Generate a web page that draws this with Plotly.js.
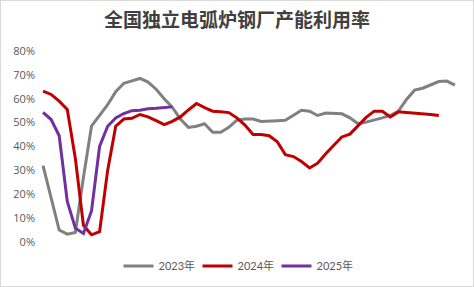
<!DOCTYPE html>
<html><head><meta charset="utf-8">
<script src="https://cdn.plot.ly/plotly-3.0.1.min.js"></script>
<style>html,body{margin:0;padding:0;background:#fff;}#frame{position:absolute;left:0;top:0;width:474px;height:287px;box-sizing:border-box;border:1px solid #d9d9d9;pointer-events:none;}#chart{position:absolute;left:0;top:0;width:474px;height:287px;}</style>
</head><body><div id="chart"></div><div id="frame"></div>
<script>
const weeks = Array.from({length:52},(_,i)=>i+1);
const y2023 = [32,18,5,3.3,4,27,48.5,53,57.5,63,66.5,67.5,68.5,67,64,60,56.5,51.5,48,48.5,49.5,46,46,48,51,51.5,51.5,50.5,50.5,50.8,51,53,55.2,54.8,53,54,54,53.7,52,49.5,50.2,51,52,53,54.8,59.7,63.6,64.4,65.8,67.2,67.4,65.7];
const y2024 = [63.2,61.8,59,55.5,35,7,3,4.3,30,48.5,51.5,51.8,53.4,52.4,50.8,49.2,50.5,52.4,55.3,58,56.3,54.8,54.6,54.2,52,49,45,45,44.5,42,36.6,35.8,33.7,31,33,37,40.5,44,45.2,48.7,52.2,54.8,54.8,52.4,54.5,54.2,54,53.8,53.4,53];
const y2025 = [54.3,51.3,44.5,17,5.8,3.6,13,40,48.5,52,53.8,55,55.2,55.8,56,56.3,56.6];
const yTickVals = [0,10,20,30,40,50,60,70,80];
const yTickText = ['0%','10%','20%','30%','40%','50%','60%','70%','80%'];
const names = ['2023年','2024年','2025年'];
const colors = ['#808080','#c00000','#7030a0'];
const series = [y2023,y2024,y2025];
const traces = series.map((ys,k)=>({
  x: weeks.slice(0, ys.length), y: ys, type:'scatter', mode:'lines', name:names[k],
  line:{color:colors[k], width:3}
}));
const layout = {
  width:474, height:287,
  margin:{l:39,r:15,t:51,b:45},
  paper_bgcolor:'#fff', plot_bgcolor:'#fff',
  title:{text:'全国独立电弧炉钢厂产能利用率', x:0.5, xanchor:'center', y:0.93, yanchor:'middle',
    font:{family:'Noto Sans CJK SC', size:19, color:'#404040', weight:'bold'}},
  xaxis:{range:[0.5,52.5], showticklabels:false, showgrid:false, zeroline:false, showline:false, ticks:''},
  yaxis:{range:[0,80], tickmode:'array', tickvals:yTickVals, ticktext:yTickText, showgrid:false, zeroline:false, showline:false,
    tickfont:{family:'Open Sans, Noto Sans CJK SC', size:11, color:'#595959'}, ticklabelstandoff:3},
  showlegend:true,
  legend:{orientation:'h', x:0.5, xanchor:'center', xref:'container', y:0.073, yanchor:'middle', yref:'container',
    font:{family:'Lato, Noto Sans CJK SC', size:11, color:'#595959'}, itemwidth:30, entrywidth:34, entrywidthmode:'pixels'}
};
Plotly.newPlot('chart', traces, layout, {displayModeBar:false, staticPlot:true});
</script></body></html>
